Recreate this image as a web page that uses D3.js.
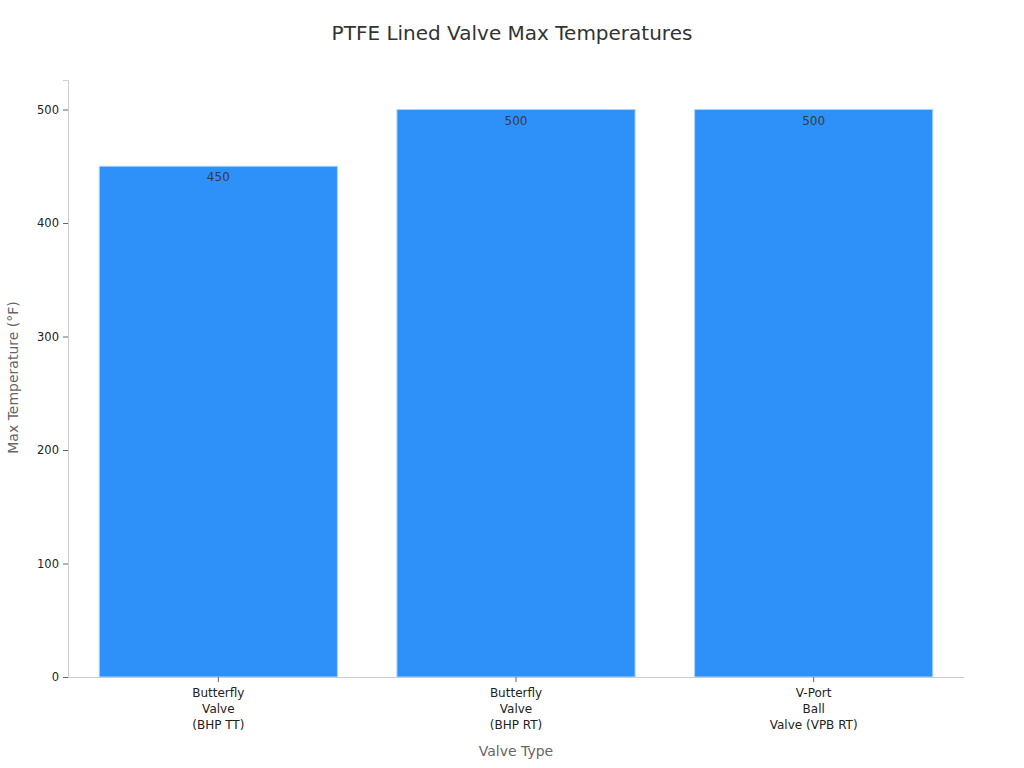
<!DOCTYPE html>
<html>
<head>
<meta charset="utf-8">
<script src="https://cdn.jsdelivr.net/npm/d3@7"></script>
<style>
  body { margin: 0; background: #fff; }
  svg { font-family: "DejaVu Sans", sans-serif; }
</style>
</head>
<body>
<div id="chart"></div>
<script>
// Chart data
const categories = [
    ["Butterfly", "Valve", "(BHP TT)"],
    ["Butterfly", "Valve", "(BHP RT)"],
    ["V-Port", "Ball", "Valve (VPB RT)"]
];
const maxTemps = [450, 500, 500];
const yTicks = [0, 100, 200, 300, 400, 500];

const width = 1024, height = 768;
const margin = { top: 80, right: 60, bottom: 91, left: 68 };
const innerW = width - margin.left - margin.right,
      innerH = height - margin.top - margin.bottom;

const svg = d3.select("#chart")
    .append("svg")
    .attr("width", width)
    .attr("height", height);

const g = svg.append("g")
    .attr("transform", `translate(${margin.left}, ${margin.top})`);

const keys = categories.map(c => c.join(" "));

const xScale = d3.scaleBand()
    .domain(keys)
    .range([0, innerW])
    .paddingInner(0.2)
    .paddingOuter(0.105);

const yScale = d3.scaleLinear()
    .domain([0, 526])
    .range([innerH, 0]);

// bars
g.selectAll(".bar")
    .data(maxTemps)
    .enter().append("rect")
    .attr("class", "bar")
    .attr("x", (d, i) => xScale(keys[i]))
    .attr("y", d => yScale(d))
    .attr("width", xScale.bandwidth())
    .attr("height", d => innerH - yScale(d))
    .attr("fill", "#2e91fa")
    .attr("stroke", "#a8d4ff")
    .attr("stroke-width", 1);

// value labels inside top of bars
g.selectAll(".val")
    .data(maxTemps)
    .enter().append("text")
    .attr("x", (d, i) => xScale(keys[i]) + xScale.bandwidth() / 2)
    .attr("y", d => yScale(d) + 15)
    .attr("text-anchor", "middle")
    .style("font-size", "12px")
    .style("fill", "#3a3a3a")
    .text(d => d);

// y axis
const yAxis = g.append("g")
    .call(d3.axisLeft(yScale).tickValues(yTicks).tickSize(5).tickPadding(4));
yAxis.select(".domain").attr("stroke", "#cccccc");
yAxis.selectAll(".tick line").attr("stroke", "#666");
yAxis.selectAll(".tick text")
    .style("font-size", "11.5px")
    .style("font-family", "DejaVu Sans")
    .attr("fill", "#222");

// x axis
const xAxis = g.append("g")
    .attr("transform", `translate(0, ${innerH})`)
    .call(d3.axisBottom(xScale).tickSize(5).tickSizeOuter(0).tickFormat(""));
xAxis.select(".domain").attr("stroke", "#cccccc");
xAxis.selectAll(".tick line").attr("stroke", "#666");

xAxis.selectAll(".tick").each(function(d, i) {
    const t = d3.select(this).append("text")
        .attr("y", 11)
        .attr("text-anchor", "middle")
        .attr("fill", "#222")
        .style("font-size", "12px")
        .style("font-family", "DejaVu Sans");
    categories[i].forEach((line, j) => {
        t.append("tspan").attr("x", 0).attr("dy", j === 0 ? "0.71em" : "1.34em").text(line);
    });
});

// axis titles
svg.append("text")
    .attr("x", margin.left + innerW / 2)
    .attr("y", 756)
    .attr("text-anchor", "middle")
    .style("font-size", "14px")
    .style("fill", "#666")
    .text("Valve Type");

svg.append("text")
    .attr("transform", "rotate(-90)")
    .attr("x", -(margin.top + innerH / 2) + 1)
    .attr("y", 18)
    .attr("text-anchor", "middle")
    .style("font-size", "14px")
    .style("fill", "#666")
    .text("Max Temperature (°F)");

// title
svg.append("text")
    .attr("x", width / 2)
    .attr("y", 40)
    .attr("text-anchor", "middle")
    .style("font-size", "20px")
    .style("fill", "#333")
    .text("PTFE Lined Valve Max Temperatures");
</script>
</body>
</html>
